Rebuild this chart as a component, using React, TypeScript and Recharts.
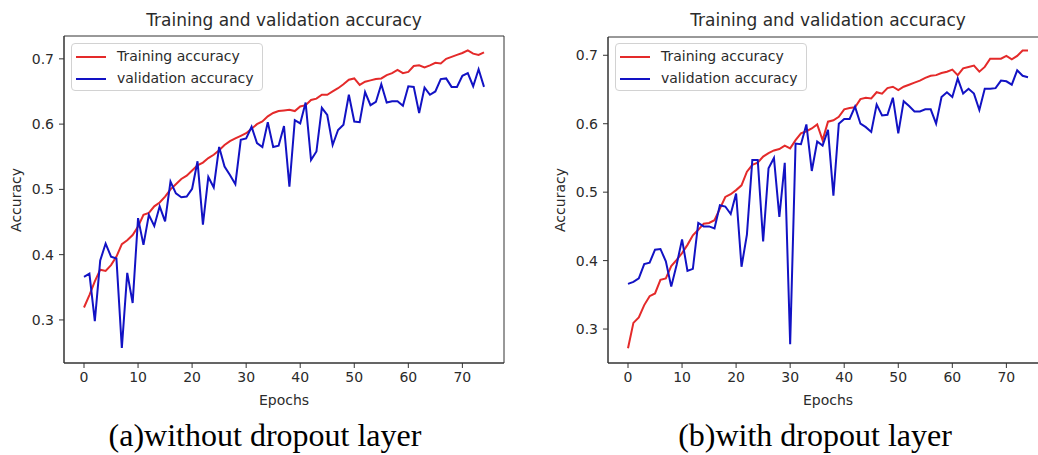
import React from "react";
import { LineChart, Line, XAxis, YAxis, Legend, ReferenceArea } from "recharts";

// epochs 0..74
const epochs = Array.from({ length: 75 }, (_, i) => i);

const xTicks = [0, 10, 20, 30, 40, 50, 60, 70];
const yTicks = [0.3, 0.4, 0.5, 0.6, 0.7];
const xDomain: [number, number] = [-3.7, 77.7];

// (a) without dropout
const trainA = [
  0.319, 0.338, 0.359, 0.377, 0.375, 0.384, 0.397, 0.416, 0.422, 0.43,
  0.443, 0.461, 0.464, 0.474, 0.48, 0.489, 0.5, 0.508, 0.516, 0.521,
  0.529, 0.537, 0.541, 0.548, 0.553, 0.56, 0.568, 0.574, 0.578, 0.582,
  0.586, 0.593, 0.6, 0.604, 0.612, 0.617, 0.62, 0.621, 0.622, 0.62,
  0.627, 0.629, 0.637, 0.639, 0.645, 0.645, 0.65, 0.655, 0.661, 0.668,
  0.67, 0.66, 0.665, 0.667, 0.669, 0.67, 0.675, 0.678, 0.683, 0.678,
  0.68, 0.689, 0.69, 0.687, 0.69, 0.694, 0.693, 0.7, 0.703, 0.706,
  0.709, 0.713, 0.708, 0.706, 0.71,
];
const valA = [
  0.366, 0.371, 0.298, 0.391, 0.417, 0.397, 0.394, 0.257, 0.372, 0.326,
  0.456, 0.415, 0.461, 0.444, 0.474, 0.451, 0.512, 0.494, 0.488, 0.489,
  0.501, 0.543, 0.446, 0.519, 0.503, 0.565, 0.535, 0.522, 0.508, 0.576,
  0.578, 0.596, 0.571, 0.565, 0.603, 0.565, 0.567, 0.597, 0.504, 0.606,
  0.601, 0.633, 0.545, 0.558, 0.625, 0.614, 0.568, 0.591, 0.599, 0.645,
  0.604, 0.603, 0.649, 0.629, 0.634, 0.661, 0.633, 0.635, 0.635, 0.628,
  0.658, 0.657, 0.617, 0.656, 0.645, 0.65, 0.669, 0.67, 0.657, 0.657,
  0.674, 0.678, 0.658, 0.684, 0.657,
];

// (b) with dropout
const trainB = [
  0.272, 0.309, 0.317, 0.335, 0.348, 0.352, 0.372, 0.374, 0.392, 0.401,
  0.411, 0.423, 0.437, 0.445, 0.454, 0.455, 0.459, 0.476, 0.493, 0.497,
  0.503, 0.51, 0.53, 0.54, 0.543, 0.552, 0.557, 0.561, 0.563, 0.568,
  0.564, 0.576, 0.586, 0.589, 0.593, 0.599, 0.576, 0.603, 0.605, 0.61,
  0.621, 0.623, 0.624, 0.636, 0.638, 0.637, 0.646, 0.644, 0.652, 0.654,
  0.649, 0.654, 0.657, 0.66, 0.663, 0.667, 0.67, 0.671, 0.674, 0.676,
  0.679, 0.671, 0.681, 0.683, 0.685, 0.676, 0.683, 0.695, 0.695, 0.695,
  0.699, 0.694, 0.699, 0.707, 0.707,
];
const valB = [
  0.366, 0.369, 0.374, 0.395, 0.397, 0.416, 0.417, 0.399, 0.362, 0.394,
  0.431, 0.385, 0.388, 0.455, 0.45, 0.45, 0.447, 0.481, 0.479, 0.468,
  0.498, 0.391, 0.438, 0.547, 0.547, 0.428, 0.535, 0.55, 0.464, 0.543,
  0.278, 0.571, 0.57, 0.599, 0.531, 0.574, 0.568, 0.591, 0.495, 0.6,
  0.607, 0.607, 0.625, 0.6, 0.595, 0.588, 0.628, 0.612, 0.613, 0.638,
  0.586, 0.633, 0.626, 0.618, 0.618, 0.621, 0.621, 0.6, 0.639, 0.646,
  0.639, 0.666, 0.644, 0.651, 0.644, 0.62, 0.651, 0.651, 0.652, 0.663,
  0.662, 0.657, 0.678, 0.67, 0.668,
];

const RED = "#e42a2a";
const BLUE = "#1212c4";
const INK = "#2b2b2b";
const SANS = "DejaVu Sans";

const toRows = (train: number[], val: number[]) =>
  epochs.map((e, i) => ({ epoch: e, train: train[i], val: val[i] }));

const LegendBox = ({ payload }: any) => (
  <div
    style={{
      width: 192,
      height: 48,
      boxSizing: "border-box",
      border: "1px solid #d2d2d2",
      borderRadius: 4,
      background: "rgba(255,255,255,0.85)",
      position: "relative",
      fontFamily: SANS,
      fontSize: 14,
      color: INK,
    }}
  >
    {(payload || []).map((p: any, i: number) => (
      <div
        key={p.value}
        style={{
          position: "absolute",
          left: 4,
          top: 4 + i * 22,
          height: 17,
          display: "flex",
          alignItems: "center",
          whiteSpace: "nowrap",
        }}
      >
        <svg width={30} height={4}>
          <line x1={0} y1={2} x2={30} y2={2} stroke={p.color} strokeWidth={2} />
        </svg>
        <span style={{ marginLeft: 11, lineHeight: "17px" }}>{p.value}</span>
      </div>
    ))}
  </div>
);

function AccChart({
  train,
  val,
  yDomain,
  top,
}: {
  train: number[];
  val: number[];
  yDomain: [number, number];
  top: number;
}) {
  const rows = toRows(train, val);
  const tickStyle = { fontSize: 14, fill: INK, fontFamily: SANS };
  return (
    <LineChart
      width={520}
      height={420}
      data={rows}
      margin={{ top, right: 16, bottom: 7, left: 0 }}
    >
      <XAxis
        dataKey="epoch"
        type="number"
        domain={xDomain}
        allowDataOverflow
        ticks={xTicks}
        tick={tickStyle}
        tickSize={5}
        tickMargin={4}
        height={50}
        stroke="#333"
        tickLine={{ stroke: "#333" }}
      />
      <YAxis
        type="number"
        domain={yDomain}
        allowDataOverflow
        ticks={yTicks}
        tickFormatter={(v: number) => v.toFixed(1)}
        tick={tickStyle}
        tickSize={5}
        tickMargin={5}
        width={64}
        stroke="#333"
        tickLine={{ stroke: "#333" }}
      />
      {/* frame: top and right spines */}
      <ReferenceArea
        x1={xDomain[0]}
        x2={xDomain[1]}
        y1={yDomain[0]}
        y2={yDomain[1]}
        fill="none"
        stroke="#333"
        strokeWidth={1}
        ifOverflow="visible"
      />
      <Legend
        layout="vertical"
        align="center"
        verticalAlign="middle"
        wrapperStyle={{ position: "absolute", left: 71, top: 43, width: 192, height: 48 }}
        content={LegendBox}
      />
      <Line
        type="linear"
        dataKey="train"
        name="Training accuracy"
        stroke={RED}
        strokeWidth={2}
        dot={false}
        isAnimationActive={false}
      />
      <Line
        type="linear"
        dataKey="val"
        name="validation accuracy"
        stroke={BLUE}
        strokeWidth={2}
        dot={false}
        isAnimationActive={false}
      />
    </LineChart>
  );
}

export default function App() {
  const title = "Training and validation accuracy";
  return (
    <div
      style={{
        position: "fixed",
        left: 0,
        top: 0,
        width: 1038,
        height: 455,
        overflow: "hidden",
        background: "#fff",
      }}
    >
      <div style={{ position: "absolute", left: 0, top: 0 }}>
        <AccChart train={trainA} val={valA} yDomain={[0.234, 0.735]} top={36} />
      </div>
      <div style={{ position: "absolute", left: 544, top: 0 }}>
        <AccChart train={trainB} val={valB} yDomain={[0.2504, 0.7267]} top={37} />
      </div>
      <svg
        width={1038}
        height={455}
        style={{ position: "absolute", left: 0, top: 0, pointerEvents: "none" }}
      >
        <g fontFamily={SANS} fill={INK}>
          <text x={284} y={25.5} fontSize={17} textAnchor="middle">{title}</text>
          <text x={828} y={25.5} fontSize={17} textAnchor="middle">{title}</text>
          <text x={284} y={405} fontSize={14} textAnchor="middle">Epochs</text>
          <text x={828} y={405} fontSize={14} textAnchor="middle">Epochs</text>
          <text x={21} y={200} fontSize={14} textAnchor="middle" transform="rotate(-90 21 200)">
            Accuracy
          </text>
          <text x={565} y={200} fontSize={14} textAnchor="middle" transform="rotate(-90 565 200)">
            Accuracy
          </text>
        </g>
        <g fontFamily="Liberation Serif" fill="#000" fontSize={32}>
          <text x={265} y={446} textAnchor="middle">(a)without dropout layer</text>
          <text x={815} y={446} textAnchor="middle">(b)with dropout layer</text>
        </g>
      </svg>
    </div>
  );
}
